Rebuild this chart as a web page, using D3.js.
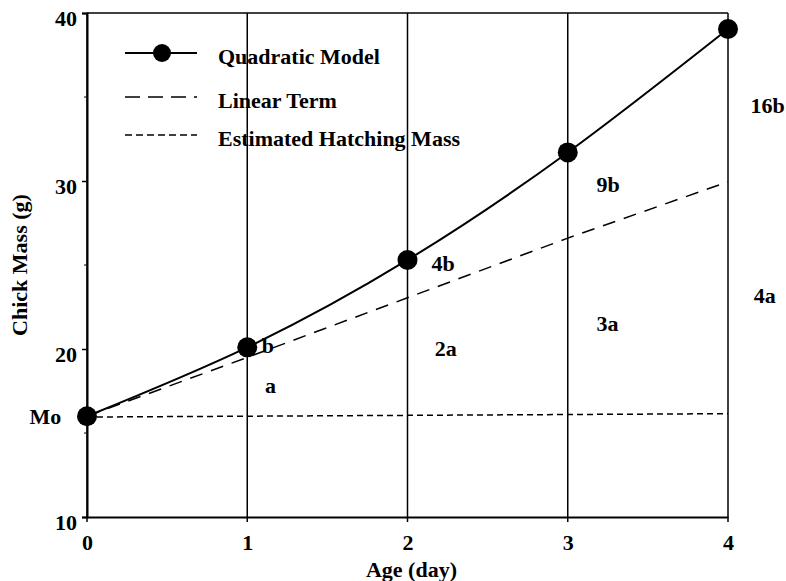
<!DOCTYPE html>
<html>
<head>
<meta charset="utf-8">
<script src="https://cdn.jsdelivr.net/npm/d3@7"></script>
<style>
  body { margin: 0; background: #fff; }
  text { font-family: "Liberation Serif", "Times New Roman", serif; font-weight: bold; fill: #000; }
</style>
</head>
<body>
<div id="chart"></div>
<script>
// values
var ages = [0, 1, 2, 3, 4];
var quadratic = [16.0, 20.1, 25.3, 31.7, 39.05];
var linearTerm = [16.0, 19.5, 23.05, 26.6, 29.95];
var hatchAges = [0, 4];
var hatchMass = [15.95, 16.15];
var yTicks = [10, 20, 30, 40];
var yMinor = [15, 25, 35];

// annotation texts, in data coordinates
var noteText = ["Mo", "b", "a", "4b", "2a", "9b", "3a", "16b", "4a"];
var noteAge = [-0.16, 1.09, 1.11, 2.15, 2.17, 3.18, 3.18, 4.14, 4.16];
var noteMass = [16.0, 20.25, 17.85, 25.1, 20.05, 29.8, 21.55, 34.5, 23.2];

var legendLabels = ["Quadratic Model", "Linear Term", "Estimated Hatching Mass"];

function init() {
    var w = 786;
    var h = 581;
    var left = 87, right = 728, top = 13, bottom = 517;
    var fs = "22px";

    var xScale = d3.scaleLinear().domain([0, 4]).range([left, right]);
    var yScale = d3.scaleLinear().domain([10, 40]).range([bottom, top]);

    var svg = d3.select("#chart")
        .append("svg")
        .attr("width", w)
        .attr("height", h);

    // vertical grid lines
    svg.selectAll(".grid")
        .data(ages)
        .enter()
        .append("line")
        .attr("class", "grid")
        .attr("x1", function (d) { return xScale(d); })
        .attr("x2", function (d) { return xScale(d); })
        .attr("y1", top)
        .attr("y2", bottom + 5)
        .attr("stroke", "#000")
        .attr("stroke-width", 1.5);

    // frame top
    svg.append("line")
        .attr("x1", left).attr("x2", right)
        .attr("y1", top).attr("y2", top)
        .attr("stroke", "#000").attr("stroke-width", 1.5);

    // axes
    var xAxis = d3.axisBottom(xScale).tickValues(ages).tickSize(0).tickPadding(17)
        .tickFormat(d3.format("d"));
    var gx = svg.append("g")
        .attr("transform", "translate(0," + bottom + ")")
        .call(xAxis);
    gx.select(".domain").attr("stroke-width", 2);
    gx.selectAll("text").style("font-size", fs);

    var yAxis = d3.axisLeft(yScale).tickValues(yTicks).tickSize(5).tickPadding(5);
    var gy = svg.append("g")
        .attr("transform", "translate(" + left + ",0)")
        .call(yAxis);
    gy.select(".domain").attr("stroke-width", 2);
    gy.selectAll(".tick line").attr("stroke-width", 1.5);
    gy.selectAll("text").style("font-size", fs).attr("dy", "0.55em");

    svg.selectAll(".minor")
        .data(yMinor)
        .enter()
        .append("line")
        .attr("x1", left - 3)
        .attr("x2", left)
        .attr("y1", function (d) { return yScale(d); })
        .attr("y2", function (d) { return yScale(d); })
        .attr("stroke", "#000");

    // axis titles
    svg.append("text")
        .attr("x", (left + right) / 2 + 4)
        .attr("y", 577)
        .attr("text-anchor", "middle")
        .style("font-size", fs)
        .text("Age (day)");

    svg.append("text")
        .attr("transform", "translate(27," + ((top + bottom) / 2) + ") rotate(-90)")
        .attr("text-anchor", "middle")
        .style("font-size", fs)
        .text("Chick Mass (g)");

    var line = d3.line()
        .x(function (d) { return xScale(d[0]); })
        .y(function (d) { return yScale(d[1]); });

    // hatching mass line
    svg.append("path")
        .datum(d3.zip(hatchAges, hatchMass))
        .attr("d", line)
        .attr("fill", "none")
        .attr("stroke", "#000")
        .attr("stroke-width", 1.5)
        .attr("stroke-dasharray", "6,4");

    // linear term
    svg.append("path")
        .datum(d3.zip(ages, linearTerm))
        .attr("d", line)
        .attr("fill", "none")
        .attr("stroke", "#000")
        .attr("stroke-width", 1.5)
        .attr("stroke-dasharray", "13,9");

    // quadratic model
    var curve = d3.line()
        .x(function (d) { return xScale(d[0]); })
        .y(function (d) { return yScale(d[1]); })
        .curve(d3.curveNatural);

    svg.append("path")
        .datum(d3.zip(ages, quadratic))
        .attr("d", curve)
        .attr("fill", "none")
        .attr("stroke", "#000")
        .attr("stroke-width", 2);

    svg.selectAll(".dot")
        .data(d3.zip(ages, quadratic))
        .enter()
        .append("circle")
        .attr("class", "dot")
        .attr("cx", function (d) { return xScale(d[0]); })
        .attr("cy", function (d) { return yScale(d[1]); })
        .attr("r", 10)
        .attr("fill", "#000");

    // annotations
    svg.selectAll(".note")
        .data(d3.zip(noteText, noteAge, noteMass))
        .enter()
        .append("text")
        .attr("class", "note")
        .attr("x", function (d) { return xScale(d[1]); })
        .attr("y", function (d) { return yScale(d[2]); })
        .attr("dy", "0.35em")
        .attr("text-anchor", function (d) { return d[0] === "Mo" ? "end" : "start"; })
        .style("font-size", fs)
        .text(function (d) { return d[0]; });

    // legend
    var rowY = [53, 97, 135];
    var lg = svg.append("g");
    lg.append("line")
        .attr("x1", 125).attr("x2", 197)
        .attr("y1", rowY[0]).attr("y2", rowY[0])
        .attr("stroke", "#000").attr("stroke-width", 2);
    lg.append("circle")
        .attr("cx", 162).attr("cy", rowY[0]).attr("r", 9).attr("fill", "#000");
    lg.append("line")
        .attr("x1", 125).attr("x2", 197)
        .attr("y1", rowY[1]).attr("y2", rowY[1])
        .attr("stroke", "#000").attr("stroke-width", 1.5)
        .attr("stroke-dasharray", "15,8");
    lg.append("line")
        .attr("x1", 125).attr("x2", 197)
        .attr("y1", rowY[2]).attr("y2", rowY[2])
        .attr("stroke", "#000").attr("stroke-width", 1.5)
        .attr("stroke-dasharray", "7,4");

    lg.selectAll("text")
        .data(legendLabels)
        .enter()
        .append("text")
        .attr("x", 218)
        .attr("y", function (d, i) { return rowY[i] + 3; })
        .attr("dy", "0.35em")
        .style("font-size", fs)
        .text(function (d) { return d; });
}

window.onload = init;
</script>
</body>
</html>
